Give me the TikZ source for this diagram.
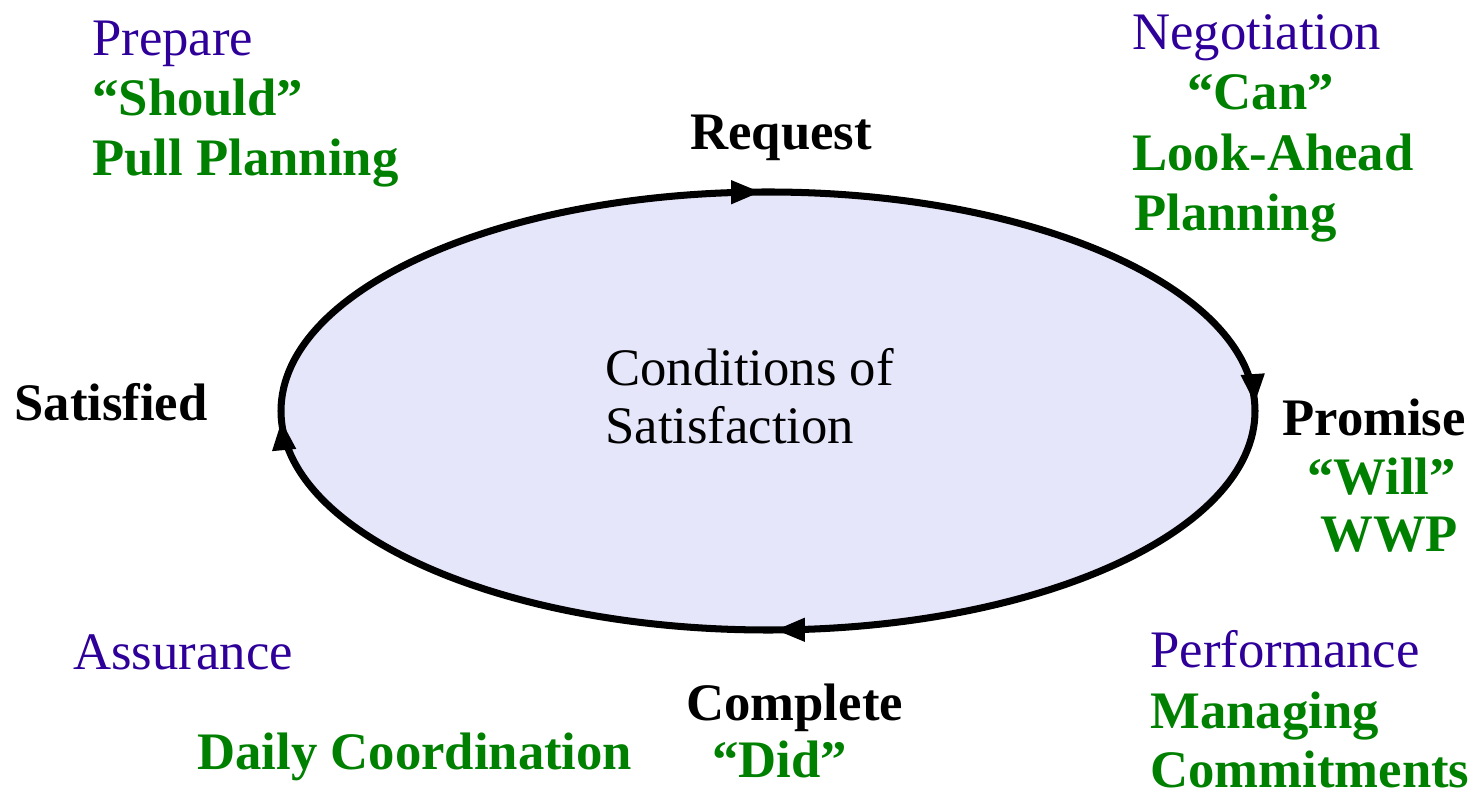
\documentclass[tikz,border=0pt]{standalone}
\usepackage{fontspec}
\setmainfont{Liberation Serif}
\usetikzlibrary{arrows.meta,positioning,decorations.markings}
\definecolor{phaseblue}{HTML}{2E0099}
\definecolor{toolgreen}{HTML}{008000}
\definecolor{cosfill}{HTML}{E6E6FA}
\tikzset{
  every node/.style = {font=\fontsize{30}{34}\selectfont, inner sep=0pt},
  act/.style        = {font=\fontsize{30}{34}\selectfont\bfseries, text=black, anchor=base west},
  phase/.style      = {text=phaseblue, anchor=base west},
  tool/.style       = {font=\fontsize{30}{34}\selectfont\bfseries, text=toolgreen, anchor=base west},
  plain/.style      = {text=black, anchor=base west},
  looptip/.tip      = {Triangle[length=6mm, width=4.4mm]},
  loopline/.style   = {draw=black, line width=4pt, fill=cosfill, postaction={decorate},
                       decoration={markings,
                         mark=at position 0.247 with {\arrow{looptip}},
                         mark=at position 0.497 with {\arrow{looptip}},
                         mark=at position 0.747 with {\arrow{looptip}},
                         mark=at position 0.996 with {\arrow{looptip}}}},
}
\begin{document}
\begin{tikzpicture}[x=0.02cm, y=-0.02cm]
  \useasboundingbox (0,0) rectangle (1475,793);
  % the loop, run clockwise from the left end
  \coordinate (cos) at (768,411);
  \coordinate (cosleft) at (281,411);
  \draw[loopline] (cosleft) arc[start angle=180, end angle=540, x radius=487, y radius=219];
  \node[plain] (cond) at (605,386) {Conditions of};
  \node[plain] (satis) at (605,444) {Satisfaction};
  % the four acts
  \node[act] (request) at (690,150) {Request};
  \node[act] (promise) at (1282,436) {Promise};
  \node[act] (complete) at (686,721) {Complete};
  \node[act] (satisfied) at (14,421) {Satisfied};
  % prepare
  \node[phase] (prepare) at (92,56) {Prepare};
  \node[tool] (should) at (92,116) {“Should”};
  \node[tool] (pull) at (92,176) {Pull Planning};
  % negotiation
  \node[phase] (nego) at (1132,50) {Negotiation};
  \node[tool] (can) at (1187,110) {“Can”};
  \node[tool] (look) at (1132,171) {Look-Ahead};
  \node[tool] (plan) at (1134,231) {Planning};
  % promise
  \node[tool] (will) at (1307,495) {“Will”};
  \node[tool] (wwp) at (1320,552) {WWP};
  % performance
  \node[phase] (perf) at (1150,668) {Performance};
  \node[tool] (manag) at (1150,729) {Managing};
  \node[tool] (commit) at (1150,787) {Commitments};
  % assurance
  \node[phase] (assur) at (73,670) {Assurance};
  \node[tool] (daily) at (197,769) {Daily Coordination};
  \node[tool] (did) at (712,778) {“Did”};
\end{tikzpicture}
\end{document}
